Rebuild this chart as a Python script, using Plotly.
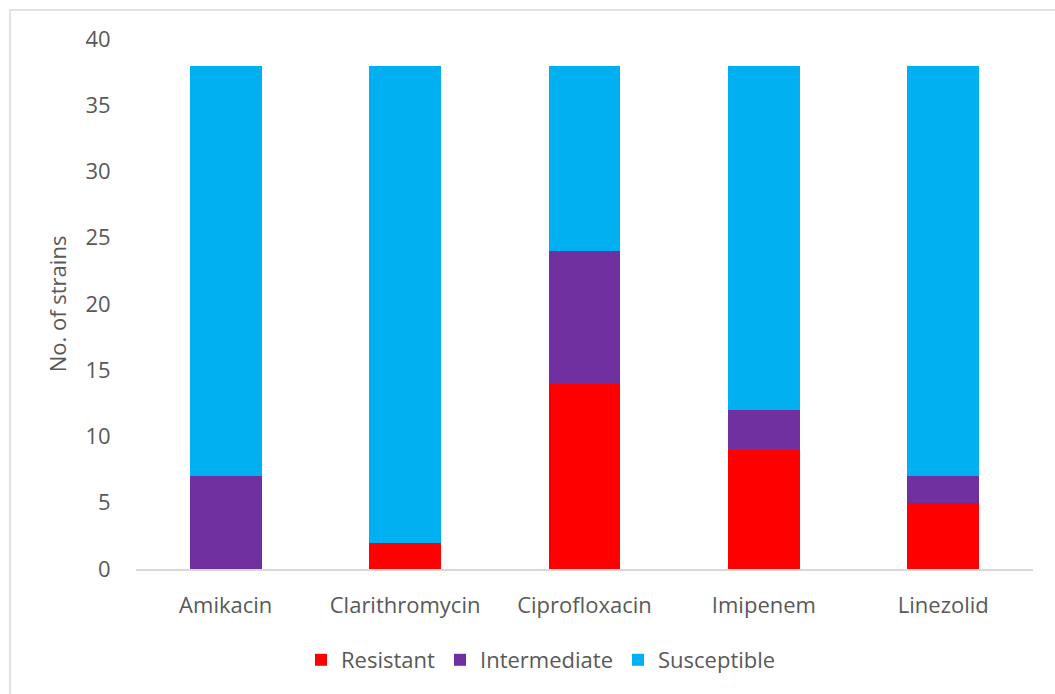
import plotly.graph_objects as go

categories = ["Amikacin", "Clarithromycin", "Ciprofloxacin", "Imipenem", "Linezolid"]
resistant = [0, 2, 14, 9, 5]
intermediate = [7, 0, 10, 3, 2]
susceptible = [31, 36, 14, 26, 31]
y_ticks = [0, 5, 10, 15, 20, 25, 30, 35, 40]

colors = {"Resistant": "#FF0000", "Intermediate": "#7030A0", "Susceptible": "#00B0F0"}
font_family = "Open Sans, Liberation Sans, sans-serif"
txt = "#595959"
fs = 22

fig = go.Figure()
for name, vals in [("Resistant", resistant), ("Intermediate", intermediate), ("Susceptible", susceptible)]:
    fig.add_trace(go.Bar(x=categories, y=vals, name=name, marker=dict(color=colors[name], line=dict(width=0))))

L, R, T, B = 136, 22, 39, 125
W, H = 1055, 694
pw, ph = W - L - R, H - T - B

fig.update_layout(
    width=W, height=H,
    barmode="stack", bargap=0.6,
    margin=dict(l=L, r=R, t=T, b=B),
    paper_bgcolor="white", plot_bgcolor="white",
    font=dict(family=font_family, size=fs, color=txt),
    showlegend=True,
    legend=dict(orientation="h", x=(541 - L) / pw, xanchor="center", y=(H - B - 660) / ph, yanchor="middle",
                font=dict(size=fs, color=txt), traceorder="normal", itemwidth=30),
    xaxis=dict(showgrid=False, showline=True, linecolor="#D9D9D9", linewidth=1.5,
               ticks="outside", ticklen=16, tickcolor="rgba(0,0,0,0)", tickfont=dict(size=fs, color=txt)),
    yaxis=dict(range=[0, 40], tickvals=y_ticks, showgrid=False, zeroline=False, showline=False,
               ticks="outside", ticklen=20, tickcolor="rgba(0,0,0,0)", tickfont=dict(size=fs, color=txt),
               title=dict(text="No. of strains", font=dict(size=fs, color=txt), standoff=12)),
    shapes=[dict(type="rect", xref="paper", yref="paper",
                 x0=(10 - L) / pw, x1=(1065 - L) / pw,
                 y0=(H - B - 710) / ph, y1=1 + (T - 10) / ph,
                 line=dict(color="#D9D9D9", width=1.5), layer="below")],
)

fig.write_html("out.html")
